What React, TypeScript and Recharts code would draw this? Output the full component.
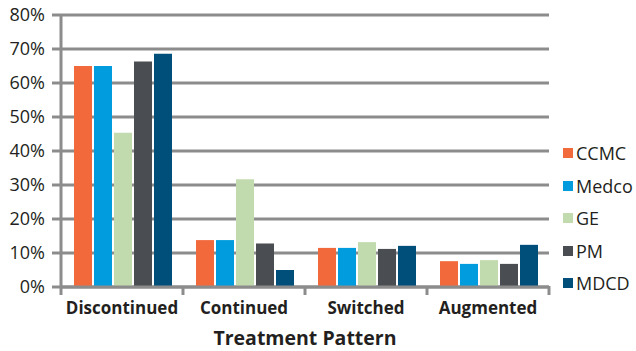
import React from 'react';
import { BarChart, Bar, XAxis, YAxis, CartesianGrid } from 'recharts';

const patterns = ['Discontinued', 'Continued', 'Switched', 'Augmented'];
const ccmc = [65.0, 13.8, 11.5, 7.6];
const medco = [65.0, 13.8, 11.5, 6.8];
const ge = [45.4, 31.7, 13.2, 7.9];
const pm = [66.3, 12.8, 11.2, 6.8];
const mdcd = [68.6, 5.0, 12.1, 12.4];
const yTicks = [0, 10, 20, 30, 40, 50, 60, 70, 80];

const seriesList = [
  { key: 'CCMC', color: '#F26A3C', values: ccmc },
  { key: 'Medco', color: '#009CDE', values: medco },
  { key: 'GE', color: '#C2DBAE', values: ge },
  { key: 'PM', color: '#4A4D51', values: pm },
  { key: 'MDCD', color: '#004F7A', values: mdcd },
];

const data = patterns.map((p, i) => {
  const row: any = { pattern: p };
  seriesList.forEach((s) => (row[s.key] = s.values[i]));
  return row;
});

const GRID = '#8C8C8C';
const TEXT = '#231F20';
const FONT = '"Open Sans", "DejaVu Sans", sans-serif';
const HALF_BAND = (549 - 61) / 4 / 2;

// category labels centred, tick marks on the band edges
const CategoryTick = (props: any) => {
  const { x, y, payload, index } = props;
  const top = y - 9;
  return (
    <g>
      <line x1={x - HALF_BAND} x2={x - HALF_BAND} y1={top} y2={top + 9} stroke={GRID} strokeWidth={3} />
      {index === patterns.length - 1 && (
        <line x1={x + HALF_BAND} x2={x + HALF_BAND} y1={top} y2={top + 9} stroke={GRID} strokeWidth={3} />
      )}
      <text x={x} y={top + 28} textAnchor="middle" fill={TEXT} fontSize={17} fontWeight={700} fontFamily={FONT}>
        {payload.value}
      </text>
    </g>
  );
};

const LegendBox = () => (
  <div style={{ position: 'absolute', left: 563, top: 137, fontFamily: FONT, fontSize: 18, color: TEXT }}>
    {seriesList.map((s) => (
      <div key={s.key} style={{ display: 'flex', alignItems: 'center', height: 32.5, whiteSpace: 'nowrap' }}>
        <span style={{ width: 10, height: 10, background: s.color, marginRight: 3, display: 'inline-block', flex: 'none' }} />
        <span>{s.key}</span>
      </div>
    ))}
  </div>
);

export default function App() {
  return (
    <div style={{ position: 'absolute', left: 0, top: 0, width: 636, height: 351, background: '#fff', overflow: 'hidden' }}>
      <BarChart
        width={636}
        height={351}
        data={data}
        margin={{ top: 15, right: 87, bottom: 0, left: 0 }}
        barCategoryGap={13}
        barGap={2}
      >
        <CartesianGrid horizontal vertical={false} stroke={GRID} strokeWidth={3} />
        <YAxis
          width={61}
          domain={[0, 80]}
          ticks={yTicks}
          interval={0}
          tickFormatter={(v: number) => `${v}%`}
          axisLine={{ stroke: GRID, strokeWidth: 3 }}
          tickLine={{ stroke: GRID, strokeWidth: 3 }}
          tickSize={9}
          tickMargin={7}
          tick={{ fill: TEXT, fontSize: 18, fontFamily: FONT }}
        />
        <XAxis
          dataKey="pattern"
          height={64}
          axisLine={{ stroke: GRID, strokeWidth: 3 }}
          tickLine={false}
          tick={<CategoryTick />}
          label={{
            value: 'Treatment Pattern',
            position: 'insideBottom',
            offset: 6,
            fill: TEXT,
            fontSize: 19.5,
            fontWeight: 700,
            fontFamily: FONT,
          }}
        />
        {seriesList.map((s) => (
          <Bar key={s.key} dataKey={s.key} fill={s.color} isAnimationActive={false} />
        ))}
      </BarChart>
      <LegendBox />
    </div>
  );
}
